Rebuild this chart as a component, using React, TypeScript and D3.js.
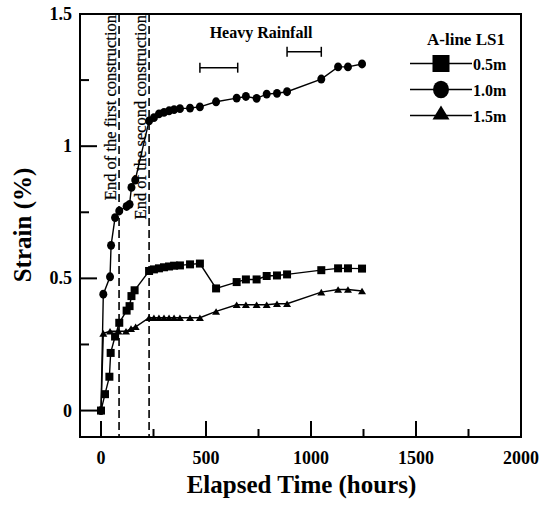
import React from "react";
import * as d3 from "d3";

// ---------- data ----------
const hours05 = [0, 19, 40, 46, 67, 87, 122, 136, 145, 160, 229, 252, 276, 300, 324, 348, 376, 424, 471, 548, 646, 690, 741, 789, 838, 886, 1049, 1129, 1176, 1243];
const strain05 = [0, 0.062, 0.128, 0.218, 0.28, 0.332, 0.378, 0.395, 0.433, 0.455, 0.528, 0.534, 0.538, 0.542, 0.545, 0.548, 0.549, 0.553, 0.556, 0.462, 0.486, 0.496, 0.496, 0.509, 0.511, 0.515, 0.531, 0.538, 0.538, 0.537];

const hours10 = [0, 11, 43, 48, 67, 87, 122, 136, 145, 163, 229, 252, 276, 300, 324, 348, 376, 424, 471, 548, 646, 690, 741, 789, 838, 886, 1049, 1129, 1176, 1243];
const strain10 = [0, 0.44, 0.506, 0.625, 0.73, 0.755, 0.772, 0.78, 0.844, 0.872, 1.096, 1.108, 1.122, 1.128, 1.134, 1.138, 1.142, 1.144, 1.149, 1.168, 1.182, 1.188, 1.181, 1.197, 1.2, 1.206, 1.254, 1.3, 1.3, 1.311];

const hours15 = [0, 11, 43, 83, 119, 143, 165, 229, 252, 276, 300, 324, 348, 376, 424, 471, 548, 646, 690, 741, 789, 838, 886, 1049, 1129, 1176, 1243];
const strain15 = [0, 0.292, 0.3, 0.3, 0.3, 0.31, 0.317, 0.351, 0.351, 0.351, 0.351, 0.351, 0.351, 0.351, 0.351, 0.351, 0.375, 0.4, 0.4, 0.4, 0.4, 0.404, 0.404, 0.448, 0.458, 0.458, 0.452];

const seriesNames = ["0.5m", "1.0m", "1.5m"];
const seriesMarkers = ["square", "circle", "triangle"];

const constructionEnds = [86, 229];
const constructionLabels = ["End of the first construction", "End of the second construction"];

const rainStart = [471, 886];
const rainEnd = [651, 1049];
const rainLevel = [1.297, 1.357];

const xTicksMajor = [0, 500, 1000, 1500, 2000];
const xTicksMinor = [250, 750, 1250, 1750];
const yTicksMajor = [0, 0.5, 1, 1.5];
const yTickLabels = ["0", "0.5", "1", "1.5"];
const yTicksMinor = [0.25, 0.75, 1.25];

// ---------- layout ----------
const W = 544, H = 505;
const L = 80, R = 521, T = 14, B = 437;
const FONT = "'Liberation Serif', 'Times New Roman', serif";

const x = d3.scaleLinear().domain([-100, 2000]).range([L, R]);
const y = d3.scaleLinear().domain([-0.1, 1.5]).range([B, T]);

function Marker({ kind, cx, cy, s }: { kind: string; cx: number; cy: number; s: number }) {
  if (kind === "square") return <rect x={cx - s / 2} y={cy - s / 2} width={s} height={s} fill="#000" />;
  if (kind === "circle") return <ellipse cx={cx} cy={cy} rx={s * 0.47} ry={s * 0.52} fill="#000" />;
  const h = s * 0.82;
  return <path d={`M${cx},${cy - h / 2}L${cx + s / 2},${cy + h / 2}L${cx - s / 2},${cy + h / 2}Z`} fill="#000" />;
}

export default function App() {
  const data = [
    { xs: hours05, ys: strain05 },
    { xs: hours10, ys: strain10 },
    { xs: hours15, ys: strain15 },
  ];
  const line = d3.line<[number, number]>().x((d) => x(d[0])).y((d) => y(d[1]));

  return (
    <svg width={W} height={H} style={{ display: "block", position: "absolute", left: 0, top: 0 }} fontFamily={FONT}>
      <rect width={W} height={H} fill="#fff" />
      {/* dashed construction lines */}
      {constructionEnds.map((h, i) => (
        <g key={"c" + i}>
          <line x1={x(h)} x2={x(h)} y1={T} y2={B} stroke="#000" strokeWidth={1.6} strokeDasharray="8,4" />
          <text
            transform={`translate(${x(h) - 3},${T + 1}) rotate(-90)`}
            textAnchor="end"
            fontSize={16.5}
            fill="#000"
            stroke="#000"
            strokeWidth={0.25}
          >
            {constructionLabels[i]}
          </text>
        </g>
      ))}

      {/* series */}
      {data.map((s, si) => {
        const pts: [number, number][] = s.xs.map((h, i) => [h, s.ys[i]]);
        return (
          <g key={"s" + si}>
            <path d={line(pts) || ""} fill="none" stroke="#000" strokeWidth={1.4} />
            {pts.map((p, i) => (
              <Marker key={i} kind={seriesMarkers[si]} cx={x(p[0])} cy={y(p[1])} s={si === 1 ? 8.5 : 8} />
            ))}
          </g>
        );
      })}

      {/* frame */}
      <rect x={L} y={T} width={R - L} height={B - T} fill="none" stroke="#000" strokeWidth={2} />

      {/* y ticks */}
      {yTicksMajor.map((v, i) => (
        <g key={"ym" + i}>
          <line x1={L} x2={L + 17} y1={y(v)} y2={y(v)} stroke="#000" strokeWidth={2} />
          <text x={72} y={y(v) + 6} textAnchor="end" fontSize={18} fontWeight="bold" fill="#000">
            {yTickLabels[i]}
          </text>
        </g>
      ))}
      {yTicksMinor.map((v, i) => (
        <line key={"yn" + i} x1={L} x2={L + 9} y1={y(v)} y2={y(v)} stroke="#000" strokeWidth={2} />
      ))}

      {/* x ticks */}
      {xTicksMajor.map((v, i) => (
        <g key={"xm" + i}>
          <line x1={x(v)} x2={x(v)} y1={B} y2={B - 16} stroke="#000" strokeWidth={2} />
          <text x={x(v)} y={464} textAnchor="middle" fontSize={18} fontWeight="bold" fill="#000">
            {String(v)}
          </text>
        </g>
      ))}
      {xTicksMinor.map((v, i) => (
        <line key={"xn" + i} x1={x(v)} x2={x(v)} y1={B} y2={B - 8} stroke="#000" strokeWidth={2} />
      ))}

      {/* axis titles */}
      <text x={(L + R) / 2 + 1} y={493} textAnchor="middle" fontSize={25} fontWeight="bold" fill="#000">
        Elapsed Time (hours)
      </text>
      <text transform={`translate(31,225) rotate(-90)`} textAnchor="middle" fontSize={25} fontWeight="bold" fill="#000">
        Strain (%)
      </text>

      {/* heavy rainfall */}
      <text x={261} y={38} textAnchor="middle" fontSize={16} fontWeight="bold" fill="#000">
        Heavy Rainfall
      </text>
      {rainStart.map((s, i) => (
        <g key={"r" + i} stroke="#000" strokeWidth={1.5}>
          <line x1={x(s)} x2={x(rainEnd[i])} y1={y(rainLevel[i])} y2={y(rainLevel[i])} />
          <line x1={x(s)} x2={x(s)} y1={y(rainLevel[i]) - 5} y2={y(rainLevel[i]) + 5} />
          <line x1={x(rainEnd[i])} x2={x(rainEnd[i])} y1={y(rainLevel[i]) - 5} y2={y(rainLevel[i]) + 5} />
        </g>
      ))}

      {/* legend */}
      <text x={466} y={45} textAnchor="middle" fontSize={17} fontWeight="bold" fill="#000">
        A-line LS1
      </text>
      {seriesNames.map((n, i) => {
        const ly = 63.5 + i * 26;
        return (
          <g key={"l" + i}>
            <line x1={410} x2={472} y1={ly} y2={ly} stroke="#000" strokeWidth={1.5} />
            <Marker kind={seriesMarkers[i]} cx={441} cy={i === 2 ? ly - 3 : ly} s={17} />
            <text x={473} y={ly + 6} fontSize={16} fontWeight="bold" fill="#000">
              {n}
            </text>
          </g>
        );
      })}
    </svg>
  );
}
